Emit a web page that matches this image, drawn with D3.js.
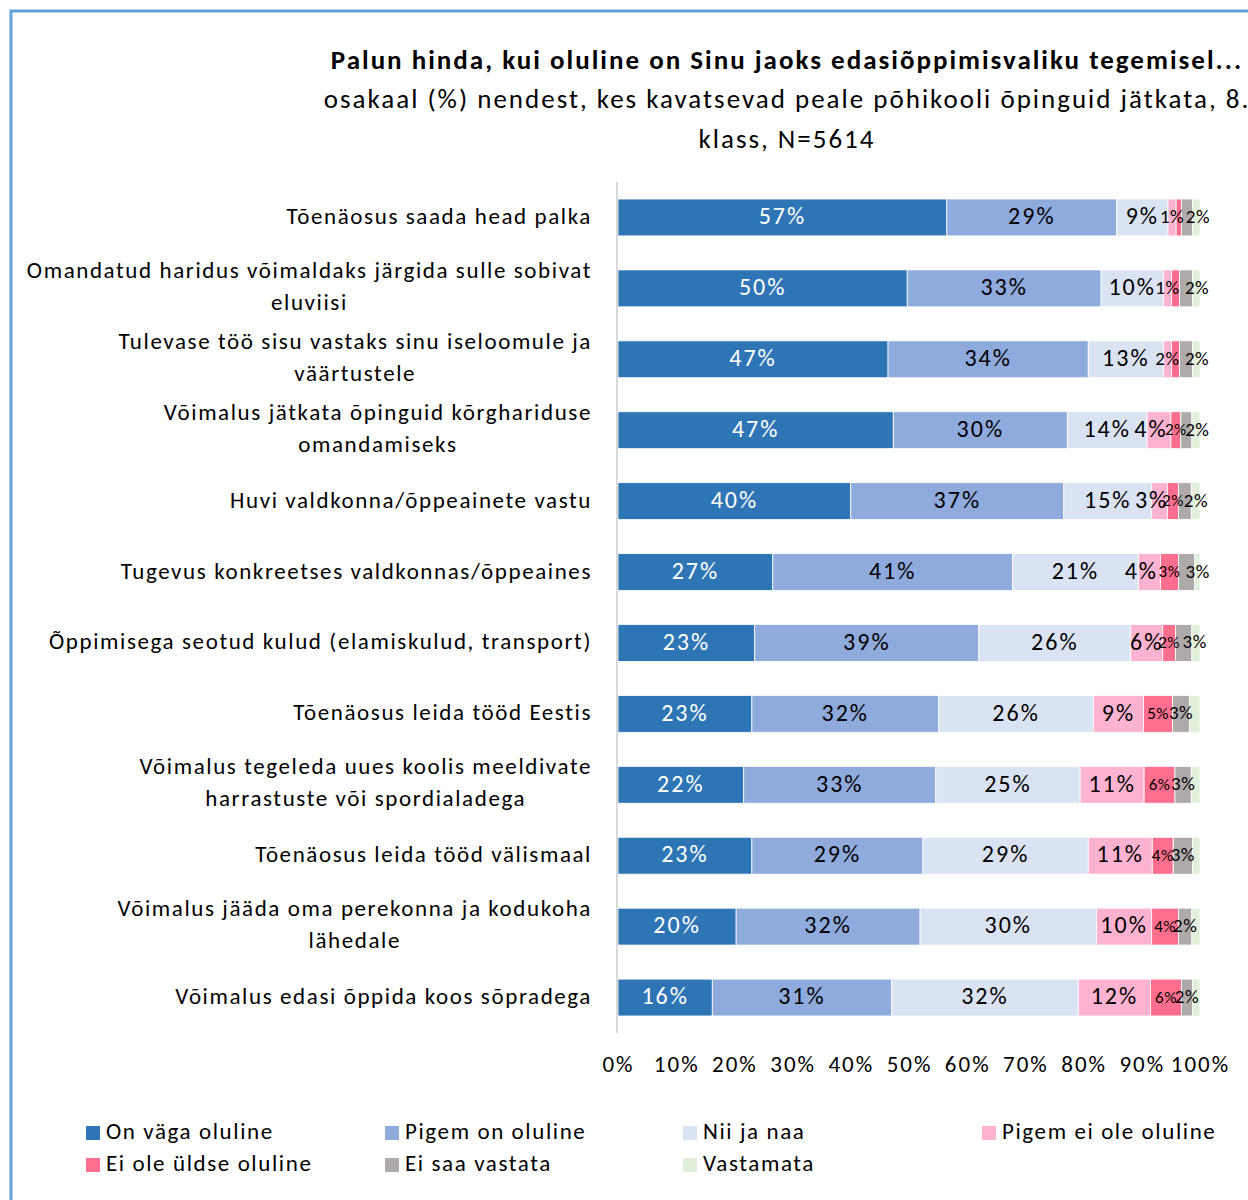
<!DOCTYPE html>
<html>
<head>
<meta charset="utf-8">
<script src="https://d3js.org/d3.v7.min.js"></script>
<style>
  body { margin: 0; background: #fff; }
  svg text { font-family: Carlito, Lato, "Liberation Sans", sans-serif; }
</style>
</head>
<body>
<script>
// categories, top to bottom
var categories = [
  ["Tõenäosus saada head palka"],
  ["Omandatud haridus võimaldaks järgida sulle sobivat", "eluviisi"],
  ["Tulevase töö sisu vastaks sinu iseloomule ja", "väärtustele"],
  ["Võimalus jätkata õpinguid kõrghariduse", "omandamiseks"],
  ["Huvi valdkonna/õppeainete vastu"],
  ["Tugevus konkreetses valdkonnas/õppeaines"],
  ["Õppimisega seotud kulud (elamiskulud, transport)"],
  ["Tõenäosus leida tööd Eestis"],
  ["Võimalus tegeleda uues koolis meeldivate", "harrastuste või spordialadega"],
  ["Tõenäosus leida tööd välismaal"],
  ["Võimalus jääda oma perekonna ja kodukoha", "lähedale"],
  ["Võimalus edasi õppida koos sõpradega"]
];

var seriesNames = ["On väga oluline", "Pigem on oluline", "Nii ja naa", "Pigem ei ole oluline",
                   "Ei ole üldse oluline", "Ei saa vastata", "Vastamata"];
var seriesColors = ["#2e75b6", "#8faadc", "#dae3f3", "#ffb3d0", "#ff6e8e", "#aeaaaa", "#e2efda"];

// share (%) per category, one column per series
var values = [
  [56.5, 29.2,  8.8,  1.4, 0.9, 1.9, 1.3],
  [49.7, 33.3, 10.7,  1.4, 1.4, 2.2, 1.3],
  [46.4, 34.4, 12.9,  1.4, 1.4, 2.2, 1.3],
  [47.3, 29.9, 13.7,  4.1, 1.7, 1.9, 1.4],
  [40.0, 36.6, 15.1,  2.7, 1.9, 2.2, 1.5],
  [26.6, 41.2, 21.6,  3.8, 3.1, 2.8, 0.9],
  [23.5, 38.5, 26.1,  5.5, 2.2, 2.8, 1.4],
  [23.0, 32.1, 26.6,  8.6, 5.0, 2.9, 1.8],
  [21.6, 33.0, 24.8, 11.0, 5.3, 2.8, 1.5],
  [23.0, 29.4, 28.4, 11.0, 3.6, 3.3, 1.3],
  [20.3, 31.6, 30.3,  9.5, 4.6, 2.3, 1.4],
  [16.2, 30.8, 32.1, 12.4, 5.3, 1.9, 1.3]
];

// data labels as printed on the chart ("" = not shown)
var labels = [
  ["57%", "29%", "9%",  "1%",  "",   "2%", ""],
  ["50%", "33%", "10%", "1%",  "",   "2%", ""],
  ["47%", "34%", "13%", "2%",  "",   "2%", ""],
  ["47%", "30%", "14%", "4%",  "2%", "2%", ""],
  ["40%", "37%", "15%", "3%",  "2%", "2%", ""],
  ["27%", "41%", "21%", "4%",  "3%", "3%", ""],
  ["23%", "39%", "26%", "6%",  "2%", "3%", ""],
  ["23%", "32%", "26%", "9%",  "5%", "3%", ""],
  ["22%", "33%", "25%", "11%", "6%", "3%", ""],
  ["23%", "29%", "29%", "11%", "4%", "3%", ""],
  ["20%", "32%", "30%", "10%", "4%", "2%", ""],
  ["16%", "31%", "32%", "12%", "6%", "2%", ""]
];

var ticks = [0, 10, 20, 30, 40, 50, 60, 70, 80, 90, 100];
var titleLines = ["Palun hinda, kui oluline on Sinu jaoks edasiõppimisvaliku tegemisel...",
                  "osakaal (%) nendest, kes kavatsevad peale põhikooli õpinguid jätkata, 8.",
                  "klass, N=5614"];

var width = 1248, height = 1200;
var svg = d3.select("body").append("svg")
  .attr("width", width)
  .attr("height", height);

// chart frame
svg.append("rect")
  .attr("x", 11).attr("y", 11)
  .attr("width", 1300).attr("height", 1300)
  .attr("fill", "none")
  .attr("stroke", "#64a1dc")
  .attr("stroke-width", 3);

// title
var titleX = 787;
svg.selectAll("text.title")
  .data(titleLines)
  .enter().append("text")
  .attr("class", "title")
  .attr("x", titleX)
  .attr("y", function(d, i) { return 62 + i * 40; })
  .attr("dominant-baseline", "middle")
  .attr("text-anchor", "middle")
  .attr("font-size", 27)
  .attr("letter-spacing", 2)
  .attr("font-weight", function(d, i) { return i == 0 ? "bold" : "normal"; })
  .attr("fill", "#000")
  .text(function(d) { return d; });

var x = d3.scaleLinear().domain([0, 100]).range([618, 1200]);
var y = d3.scaleBand()
  .domain(d3.range(categories.length))
  .range([182, 1033])
  .paddingInner(0.48)
  .paddingOuter(0.24);

// stacked data
var rows = values.map(function(v, i) {
  var acc = 0;
  return v.map(function(val, j) {
    var seg = {row: i, series: j, x0: acc, x1: acc + val, label: labels[i][j]};
    acc += val;
    return seg;
  });
});
var segs = d3.merge(rows);

svg.append("g").selectAll("rect")
  .data(segs)
  .enter().append("rect")
  .attr("x", function(d) { return x(d.x0); })
  .attr("y", function(d) { return y(d.row); })
  .attr("width", function(d) { return x(d.x1) - x(d.x0); })
  .attr("height", y.bandwidth())
  .attr("fill", function(d) { return seriesColors[d.series]; })
  .attr("stroke", "#fff")
  .attr("stroke-width", 0.8);

// vertical axis line
svg.append("line")
  .attr("x1", 617).attr("x2", 617)
  .attr("y1", 182).attr("y2", 1033)
  .attr("stroke", "#d9d9d9")
  .attr("stroke-width", 2);

// data labels
function redShown(d) { return labels[d.row][4] != ""; }
function labelSize(d) {
  if (d.series == 4) return 17;
  if (d.series == 5) return 19;
  if (d.series == 3 && !redShown(d)) return 19;
  return 24;
}
function labelShift(d) {
  var red = values[d.row][4];
  if (d.series == 5 && red < 3.5) return 11;
  if (d.series == 3 && redShown(d) && values[d.row][3] < 4.5) return -8;
  return 0;
}
svg.append("g").selectAll("text")
  .data(segs.filter(function(d) { return d.label != ""; }))
  .enter().append("text")
  .attr("x", function(d) { return (x(d.x0) + x(d.x1)) / 2 + labelShift(d); })
  .attr("y", function(d) { return y(d.row) + y.bandwidth() / 2 + 1; })
  .attr("dominant-baseline", "middle")
  .attr("text-anchor", "middle")
  .attr("font-size", labelSize)
  .attr("letter-spacing", function(d) { return d.series < 4 && labelSize(d) > 20 ? 2 : 0.5; })
  .attr("fill", function(d) { return d.series == 0 ? "#fff" : "#000"; })
  .text(function(d) { return d.label; });

// category labels: block right-aligned, lines centered in block
var catG = svg.append("g");
categories.forEach(function(lines, i) {
  var g = catG.append("g");
  var cy = y(i) + y.bandwidth() / 2;
  var t = g.selectAll("text")
    .data(lines)
    .enter().append("text")
    .attr("y", function(d, k) { return lines.length == 1 ? cy + 1 : cy - 16 + k * 32; })
    .attr("dominant-baseline", "middle")
    .attr("text-anchor", "middle")
    .attr("font-size", 23)
    .attr("letter-spacing", 1.6)
    .attr("fill", "#000")
    .text(function(d) { return d; });
  var maxW = d3.max(t.nodes(), function(n) { return n.getComputedTextLength(); });
  t.attr("x", 592 - maxW / 2);
});

// x axis
var xAxis = d3.axisBottom(x)
  .tickValues(ticks)
  .tickSize(0)
  .tickPadding(0)
  .tickFormat(function(d) { return d + "%"; });
var ax = svg.append("g")
  .attr("transform", "translate(0,1067)")
  .call(xAxis);
ax.select(".domain").remove();
ax.selectAll("text")
  .attr("font-size", 23)
  .attr("letter-spacing", 2)
  .attr("font-family", null)
  .attr("fill", "#000")
  .attr("dy", null)
  .attr("dominant-baseline", "middle");

// legend
var legendCols = [86, 385, 683, 982];
var leg = svg.append("g").selectAll("g")
  .data(seriesNames)
  .enter().append("g")
  .attr("transform", function(d, i) {
    return "translate(" + legendCols[i % 4] + "," + (1133 + Math.floor(i / 4) * 32) + ")";
  });
leg.append("rect")
  .attr("x", 0).attr("y", -7)
  .attr("width", 14).attr("height", 14)
  .attr("fill", function(d, i) { return seriesColors[i]; });
leg.append("text")
  .attr("x", 20)
  .attr("y", 1)
  .attr("dominant-baseline", "middle")
  .attr("font-size", 23)
  .attr("letter-spacing", 1.6)
  .attr("fill", "#000")
  .text(function(d) { return d; });
</script>
</body>
</html>
